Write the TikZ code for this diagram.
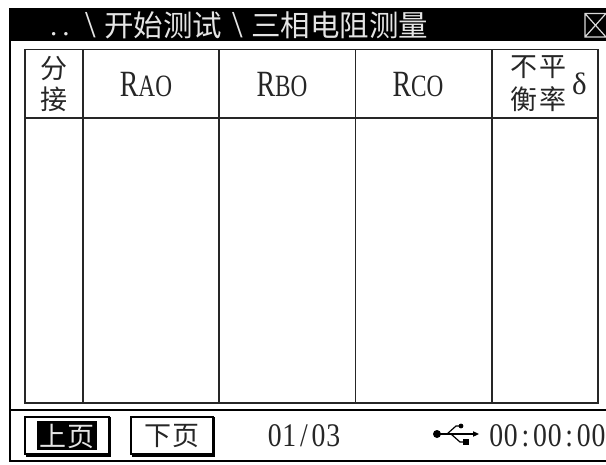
\documentclass[tikz,border=0pt]{standalone}
\usepackage{fontspec}
\usepackage{graphicx}
\setmainfont{Liberation Serif}
\newfontfamily\cjk{Noto Sans CJK SC}
\newcommand{\rlab}[2]{\scalebox{0.75}[1]{\fontsize{37pt}{37pt}\selectfont #1\fontsize{31pt}{31pt}\selectfont #2}}
\newcommand{\dg}[1]{\makebox[14.6pt][c]{\scalebox{0.84}[1]{#1}}}
\tikzset{
  rule/.style={draw=black,line width=1.5pt},
  gridline/.style={draw=black!85,line width=1.4pt},
  cjktext/.style={inner sep=0pt,font=\cjk\fontsize{27pt}{30pt}\selectfont,text=black!85},
  titletext/.style={inner sep=0pt,anchor=west,text=white!90!black,font=\cjk\fontsize{29.5pt}{30pt}\selectfont},
  slashtext/.style={inner sep=0pt,anchor=base west,text=white!90!black,font=\fontsize{38pt}{38pt}\selectfont},
  heading/.style={inner sep=0pt,text=black!85},
  numtext/.style={inner sep=0pt,text=black!85,font=\fontsize{33pt}{33pt}\selectfont},
  button/.style={draw=black,line width=1.2pt,fill=white}
}
\begin{document}
\begin{tikzpicture}[x=1pt,y=-1pt]
\useasboundingbox (0,0) rectangle (606,464);
\fill[white] (0,0) rectangle (606,464);
% title bar
\fill[black] (9,8) rectangle (606,41);
\node[inner sep=0pt,anchor=base west,text=white!90!black,font=\fontsize{29pt}{30pt}\selectfont] (dots) at (50,35) {.\hspace{5pt}.};
\node[slashtext] (sepa) at (85.5,37.5) {\textbackslash};
\node[titletext] (tb) at (104,25) {开始测试};
\node[slashtext] (sepb) at (232.5,37.5) {\textbackslash};
\node[titletext] (tc) at (251,25) {三相电阻测量};
% close icon
\draw[white!85!black,line width=1.2pt] (585,13.5) rectangle (607,37) (585,13.5) -- (606,37) (585,37) -- (606,13.5);
% outer frame
\draw[rule] (10,41) -- (10,461) -- (606,461);
\draw[rule] (10,410) -- (606,410);
% table
\draw[gridline] (25,49.5) rectangle (598,403);
\draw[gridline,line width=1.6pt] (25,118) -- (598,118);
\foreach \x in {83,219,355.5,492} \draw[gridline] (\x,49.5) -- (\x,403);
% headings
\node[cjktext] (fen) at (54,68.5) {分};
\node[cjktext] (jie) at (54,99.5) {接};
\node[heading] (ra) at (146,84.5) {\rlab{R}{AO}};
\node[heading] (rb) at (282,84.5) {\rlab{R}{BO}};
\node[heading] (rc) at (418,84.5) {\rlab{R}{CO}};
\node[cjktext] (bu) at (523.5,67) {不};
\node[cjktext] (ping) at (553,67) {平};
\node[cjktext] (heng) at (523.5,99.5) {衡};
\node[cjktext] (lv) at (553,99.5) {率};
\node[heading,font=\fontsize{31pt}{31pt}\selectfont] (delta) at (579.5,84) {δ};
% buttons
\draw[button] (25,417) rectangle (109,454);
\draw[black,line width=2.4pt] (110,417) -- (110,455.5) -- (26,455.5);
\fill[black] (37,421) rectangle (97,450);
\node[cjktext,text=white!90!black] (up) at (67,436) {上\hspace{1pt}页};
\draw[button] (131,417) rectangle (213,454);
\draw[black,line width=2.4pt] (214,417) -- (214,455.5) -- (132,455.5);
\node[cjktext] (down) at (172,436) {下\hspace{1pt}页};
% footer
\node[numtext] (page) at (304,436) {\dg{0}\dg{1}\dg{/}\dg{0}\dg{3}};
\node[numtext,anchor=east] (clock) at (606,436) {\dg{0}\dg{0}\dg{:}\dg{0}\dg{0}\dg{:}\dg{0}\dg{0}};
% usb
\fill[black] (437,434) circle (4);
\draw[black,line width=1.2pt] (437,434) -- (475,434);
\fill[black] (479,434) -- (473,431.2) -- (473,436.8) -- cycle;
\draw[black,line width=1.2pt] (447,434) -- (456,426) -- (461,426);
\fill[black] (461,426) circle (2.4);
\draw[black,line width=1.2pt] (451,434) -- (460,442) -- (465,442);
\fill[black] (463,439.2) rectangle (468.5,444.8);
\end{tikzpicture}
\end{document}
